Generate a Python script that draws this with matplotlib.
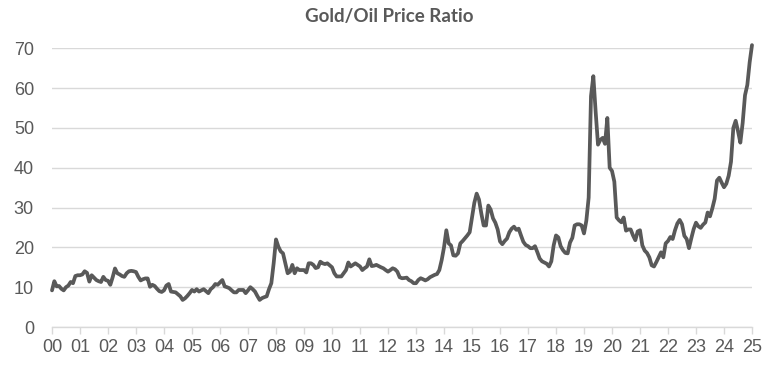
import numpy as np
import matplotlib.pyplot as plt

# monthly gold/oil ratio, Jan 2000 .. Jan 2025
r2000 = [9.2, 11.5, 10.2, 10.3, 9.6, 9.2, 10.0, 10.4, 11.3, 11.0, 12.8, 13.0]
r2001 = [13.0, 13.2, 14.0, 13.6, 11.4, 13.0, 12.4, 11.8, 11.5, 11.3, 12.6, 11.8]
r2002 = [11.6, 10.6, 12.5, 14.7, 13.5, 13.2, 12.8, 12.6, 13.5, 14.0, 14.1, 14.0]
r2003 = [13.8, 12.6, 11.7, 12.0, 12.2, 12.2, 10.1, 10.6, 10.3, 9.6, 9.0, 8.8]
r2004 = [9.2, 10.4, 10.8, 8.9, 8.8, 8.7, 8.2, 7.7, 6.8, 7.2, 7.8, 8.5]
r2005 = [9.3, 8.9, 9.5, 8.9, 9.2, 9.5, 9.0, 8.5, 9.5, 10.0, 10.8, 10.6]
r2006 = [11.2, 11.8, 10.2, 10.0, 9.75, 9.2, 8.7, 8.7, 9.3, 9.3, 9.3, 8.5]
r2007 = [9.2, 10.0, 9.5, 8.9, 7.8, 6.8, 7.25, 7.5, 7.7, 9.5, 11.0, 16.0]
r2008 = [22.0, 20.2, 19.0, 18.5, 16.0, 13.5, 13.9, 15.6, 13.5, 14.75, 14.3, 14.3]
r2009 = [14.3, 13.7, 16.0, 16.0, 15.6, 14.8, 15.0, 16.4, 16.0, 15.8, 16.0, 15.5]
r2010 = [15.0, 13.5, 12.7, 12.7, 12.7, 13.5, 14.3, 16.2, 15.2, 15.6, 16.0, 15.6]
r2011 = [15.2, 14.3, 14.8, 15.2, 17.0, 15.3, 15.4, 15.6, 15.3, 15.0, 14.75, 14.3]
r2012 = [13.9, 14.3, 14.75, 14.5, 13.9, 12.5, 12.25, 12.3, 12.4, 11.8, 11.5, 11.0]
r2013 = [11.0, 11.8, 12.25, 12.0, 11.7, 12.0, 12.5, 12.8, 13.1, 13.3, 14.3, 16.8]
r2014 = [20.0, 24.3, 21.0, 20.5, 18.0, 17.9, 18.5, 21.0, 21.6, 22.3, 23.0, 23.8]
r2015 = [27.5, 31.2, 33.5, 32.0, 28.5, 25.5, 25.5, 30.5, 29.5, 27.3, 26.2, 24.5]
r2016 = [21.5, 20.8, 21.6, 22.2, 23.8, 24.7, 25.2, 24.4, 24.7, 23.0, 21.4, 20.6]
r2017 = [20.3, 19.8, 19.8, 20.3, 18.8, 17.2, 16.5, 16.2, 15.9, 15.2, 16.5, 20.5]
r2018 = [23.0, 22.5, 20.3, 19.3, 18.6, 18.5, 21.2, 22.4, 25.5, 25.8, 25.8, 25.5]
r2019 = [23.5, 26.7, 32.5, 58.0, 63.0, 54.0, 45.8, 47.0, 47.5, 46.0, 52.5, 40.0]
r2020 = [39.2, 36.5, 27.5, 26.8, 26.3, 27.5, 24.2, 24.5, 24.5, 23.0, 21.8, 24.0]
r2021 = [24.3, 20.5, 19.2, 18.6, 17.5, 15.5, 15.2, 16.3, 17.5, 18.75, 17.5, 21.0]
r2022 = [21.6, 22.6, 22.1, 24.3, 26.0, 26.9, 25.8, 22.9, 22.1, 19.8, 22.3, 24.6]
r2023 = [26.2, 25.3, 24.9, 25.7, 26.25, 28.75, 27.8, 29.8, 32.2, 36.8, 37.5, 36.25]
r2024 = [35.1, 36.0, 38.0, 41.5, 50.0, 51.8, 49.2, 46.3, 51.25, 58.2, 60.8, 66.5]
r2025 = [70.8]

ratio = np.array(r2000 + r2001 + r2002 + r2003 + r2004 + r2005 + r2006 + r2007
                 + r2008 + r2009 + r2010 + r2011 + r2012 + r2013 + r2014 + r2015
                 + r2016 + r2017 + r2018 + r2019 + r2020 + r2021 + r2022 + r2023
                 + r2024 + r2025)
years = np.arange(len(ratio)) / 12.0
year_labels = ["%02d" % y for y in range(26)]

grey = "#595959"
grid = "#d9d9d9"

fig = plt.figure(figsize=(7.78, 3.69), dpi=100)
ax = fig.add_axes([52 / 778, 42 / 369, 700 / 778, 278.7 / 369])

ax.plot(years, ratio, color=grey, lw=2.7, clip_on=False, zorder=3,
        solid_joinstyle="round", solid_capstyle="round")

ax.set_xlim(0, 25)
ax.set_ylim(0, 70)
ax.set_yticks(np.arange(0, 71, 10))
ax.set_xticks(np.arange(26))
ax.set_xticklabels(year_labels)

ax.grid(axis="y", color=grid, lw=1)
ax.set_axisbelow(True)
for s in ["top", "right", "left"]:
    ax.spines[s].set_visible(False)
ax.spines["bottom"].set_color(grid)
ax.spines["bottom"].set_linewidth(1)

ax.tick_params(axis="x", colors=grid, length=5, width=1, pad=4,
               labelcolor=grey, labelsize=13)
ax.tick_params(axis="y", length=0, pad=13, labelcolor=grey, labelsize=13)
for lab in ax.get_xticklabels() + ax.get_yticklabels():
    lab.set_family("Liberation Sans")

fig.text(0.5, 0.955, "Gold/Oil Price Ratio", ha="center", va="center",
         fontsize=13.5, fontweight="bold", color=grey, family="Lato")

fig.savefig("out.png", dpi=100)
